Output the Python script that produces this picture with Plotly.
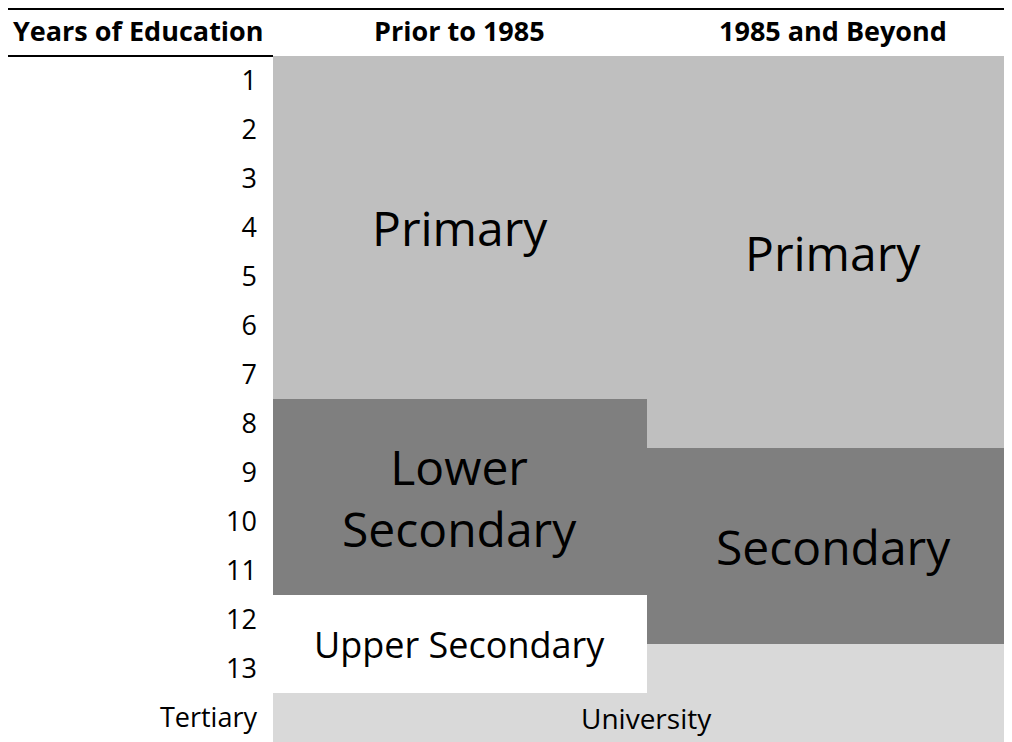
import plotly.graph_objects as go

# columns (periods) and row labels (years of education)
periods = ["Prior to 1985", "1985 and Beyond"]
years = [1, 2, 3, 4, 5, 6, 7, 8, 9, 10, 11, 12, 13, 14]
year_labels = ["1", "2", "3", "4", "5", "6", "7", "8", "9", "10", "11", "12", "13", "Tertiary"]

# stage blocks: first year and number of years, per period
prior_stages = ["Primary", "Lower<br>Secondary", "Upper Secondary", "University"]
prior_start = [1, 8, 12, 14]
prior_years = [7, 4, 2, 1]

beyond_stages = ["Primary", "Secondary", "University"]
beyond_start = [1, 9, 13]
beyond_years = [8, 4, 2]

stage_colors = {
    "Primary": "#bfbfbf",
    "Lower<br>Secondary": "#7f7f7f",
    "Secondary": "#7f7f7f",
    "Upper Secondary": "#ffffff",
    "University": "#d9d9d9",
}
label_sizes = {
    "Primary": 48,
    "Lower<br>Secondary": 48,
    "Secondary": 48,
    "Upper Secondary": 36,
}

FONT = "'Open Sans', sans-serif"

# plot area in figure pixels (the page adds an 8px body margin)
L, T, W, H = 265, 48, 747, 686

fig = go.Figure()

annotations = []
for period, stages, starts, lengths in [
    (periods[0], prior_stages, prior_start, prior_years),
    (periods[1], beyond_stages, beyond_start, beyond_years),
]:
    for stage, s, n in zip(stages, starts, lengths):
        fig.add_trace(go.Bar(
            x=[period], y=[n], base=[s - 0.5],
            marker=dict(color=stage_colors[stage], line=dict(width=0)),
            showlegend=False, hoverinfo="skip",
        ))
        if stage != "University":
            annotations.append(dict(
                x=period, y=s - 0.5 + n / 2, text=stage, showarrow=False,
                xanchor="center",
                font=dict(family=FONT, size=label_sizes[stage], color="black"),
            ))

# University label spans both columns
annotations.append(dict(
    xref="paper", x=0.5, y=14, xanchor="center", text="University", showarrow=False,
    font=dict(family=FONT, size=28, color="black"),
))

# header row
for p in periods:
    annotations.append(dict(
        x=p, yref="paper", y=1.0, xanchor="center", yanchor="middle", yshift=26,
        text="<b>%s</b>" % p, showarrow=False,
        font=dict(family=FONT, size=27, color="black"),
    ))
annotations.append(dict(
    xref="paper", yref="paper", x=(130.5 - L) / W, y=1.0, xanchor="center",
    yanchor="middle", yshift=26,
    text="<b>Years of Education</b>", showarrow=False,
    font=dict(family=FONT, size=27, color="black"),
))

fig.update_layout(
    width=1012, height=742,
    margin=dict(l=L, r=1012 - L - W, t=T, b=742 - T - H),
    paper_bgcolor="white", plot_bgcolor="white",
    barmode="overlay", bargap=0,
    font=dict(family=FONT, color="black"),
    annotations=annotations,
    xaxis=dict(
        categoryorder="array", categoryarray=periods,
        showticklabels=False, showgrid=False, zeroline=False,
        showline=False, ticks="", automargin=False,
    ),
    yaxis=dict(
        range=[14.5, 0.5], tickvals=years, ticktext=year_labels,
        tickfont=dict(size=27), showgrid=False, zeroline=False,
        showline=False, ticks="", ticklabelstandoff=15, automargin=False,
    ),
    shapes=[
        # top rule across the whole figure
        dict(type="line", xref="paper", yref="paper", x0=-L / W, x1=1,
             y0=1.0 + (T - 1) / H, y1=1.0 + (T - 1) / H,
             line=dict(color="black", width=2)),
        # rule under the first header cell
        dict(type="line", xref="paper", yref="paper", x0=-L / W, x1=0,
             y0=1.0, y1=1.0, line=dict(color="black", width=2)),
    ],
)

fig.write_html("out.html")
